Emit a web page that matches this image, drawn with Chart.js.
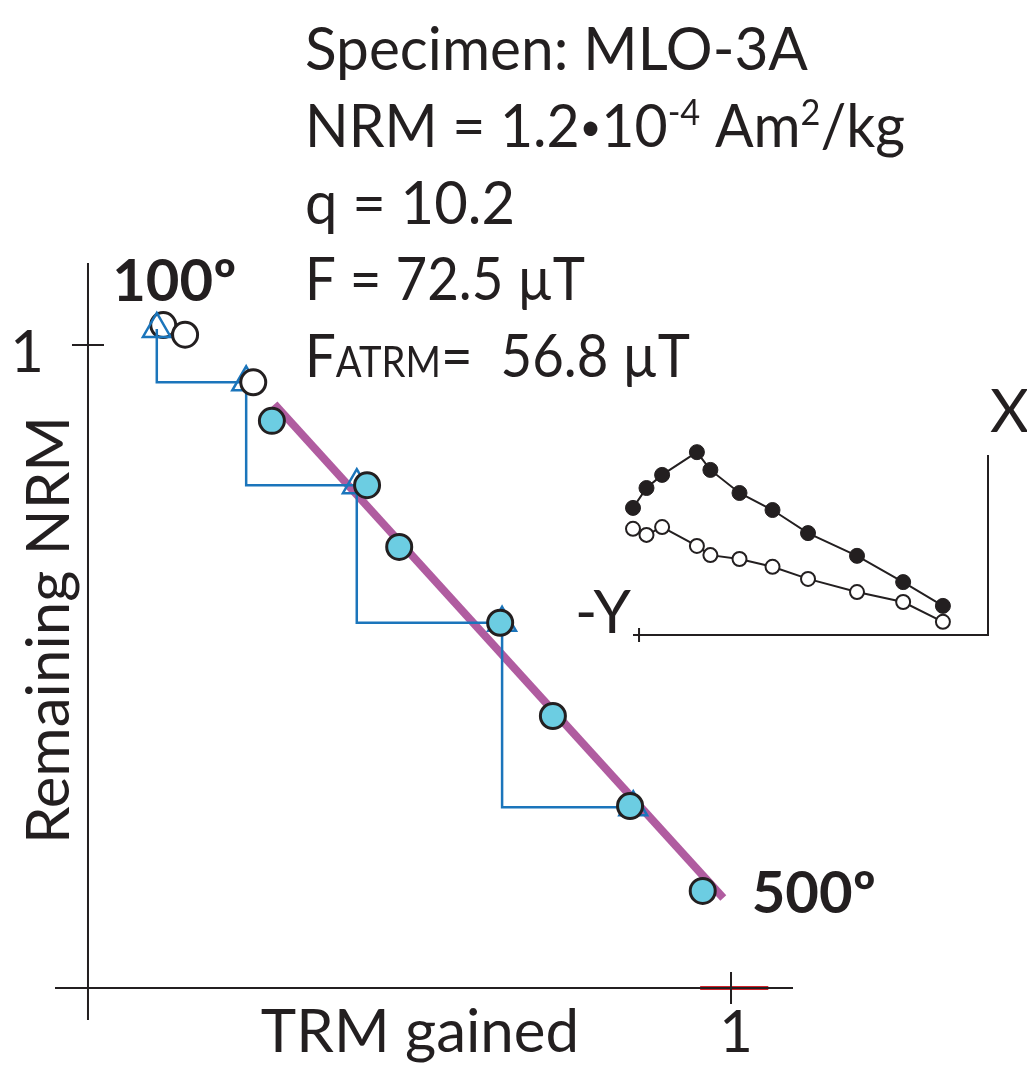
<!DOCTYPE html>
<html>
<head>
<meta charset="utf-8">
<title>Arai plot MLO-3A</title>
<script src="https://cdn.jsdelivr.net/npm/chart.js@4.4.1/dist/chart.umd.min.js"></script>
<style>
  html, body { margin: 0; padding: 0; background: #fff; }
  #wrap { position: relative; width: 1027px; height: 1067px; }
  #arai { position: absolute; left: 0; top: 0; }
  #zij { position: absolute; left: 560px; top: 380px; }
</style>
</head>
<body>
<div id="wrap">
  <canvas id="arai" width="1027" height="1067"></canvas>
  <canvas id="zij" width="467" height="300"></canvas>
</div>
<script>
// Arai plot, normalised: TRM gained (x) vs remaining NRM (y)
const fitTrm = [0.286, 0.434, 0.484, 0.641, 0.723, 0.843, 0.956];
const fitNrm = [0.882, 0.782, 0.686, 0.568, 0.423, 0.283, 0.151];
// low temperature steps left out of the fit
const lowTrm = [0.117, 0.151, 0.257];
const lowNrm = [1.031, 1.016, 0.942];
// pTRM checks
const checkTrm = [0.107, 0.246, 0.418, 0.644, 0.848];
const checkNrm = [1.025, 0.942, 0.782, 0.568, 0.281];
// best-fit segment
const lineTrm = [0.29, 0.988];
const lineNrm = [0.908, 0.140];
// short red mark on the TRM axis
const markTrm = [0.952, 1.058];
const markNrm = [0, 0];
const stepLabels = ['100º', '500º'];
const axisTicks = [1];

// orthogonal (Zijderveld) projection of the demagnetisation
const zijMinusY = [1.000, 0.962, 0.918, 0.820, 0.782, 0.700, 0.607, 0.507, 0.369, 0.239, 0.127];
const zijX = [0.358, 0.414, 0.451, 0.515, 0.465, 0.400, 0.352, 0.287, 0.223, 0.149, 0.082];
const zijZ = [0.299, 0.282, 0.304, 0.251, 0.225, 0.214, 0.192, 0.158, 0.121, 0.093, 0.037];

const specimenInfo = [
  [['Specimen: MLO-3A']],
  [['NRM = 1.2'], ['•', 'dot'], ['10'], ['-4', 'sup'], [' Am'], ['2', 'sup'], ['/kg']],
  [['q = 10.2']],
  [['F = 72.5 µT']],
  [['F'], ['ATRM', 'sub'], ['=  56.8 µT']],
];
// set width of each info line, in px
const infoWidths = [503, 600, 210, 280, 385];

const INK = '#231f20';
const CYAN = '#6ccde2';
const BLUE = '#1b75bb';
const PURPLE = '#b05ca0';
const FONT = 'Lato, "Open Sans", sans-serif';

const pts = (xs, ys) => xs.map((x, i) => ({ x, y: ys[i] }));

function partStyle(kind, size) {
  if (kind === 'sup') return { s: size * 0.6, dy: -22 };
  if (kind === 'sub') return { s: size * 0.7, dy: 0 };
  if (kind === 'dot') return { s: size * 0.65, dy: -7 };
  return { s: size, dy: 0 };
}

function richText(ctx, parts, x, y, size, width) {
  let natural = 0;
  parts.forEach(([t, kind]) => {
    ctx.font = partStyle(kind, size).s + 'px ' + FONT;
    natural += ctx.measureText(t).width;
  });
  ctx.save();
  ctx.translate(x, y);
  ctx.scale(width / natural, 1);
  let cx = 0;
  parts.forEach(([t, kind]) => {
    const { s, dy } = partStyle(kind, size);
    ctx.font = s + 'px ' + FONT;
    ctx.fillText(t, cx, dy);
    cx += ctx.measureText(t).width;
  });
  ctx.restore();
}

// axes crossing at the origin, with cross ticks at 1, plus all labels
const araiDecor = {
  id: 'araiDecor',
  afterDatasetsDraw(chart) {
    const { ctx, chartArea: a, scales: { x, y } } = chart;
    const x0 = x.getPixelForValue(0), y0 = y.getPixelForValue(0);
    ctx.save();
    ctx.strokeStyle = INK;
    ctx.lineWidth = 2;
    ctx.beginPath();
    ctx.moveTo(a.left, y0); ctx.lineTo(a.right, y0);
    ctx.moveTo(x0, a.top); ctx.lineTo(x0, a.bottom);
    axisTicks.forEach(v => {
      const px = x.getPixelForValue(v), py = y.getPixelForValue(v);
      ctx.moveTo(px, y0 - 16); ctx.lineTo(px, y0 + 16);
      ctx.moveTo(x0 - 16, py); ctx.lineTo(x0 + 16, py);
    });
    ctx.stroke();

    ctx.fillStyle = INK;
    ctx.font = '58px ' + FONT;
    ctx.textBaseline = 'alphabetic';
    axisTicks.forEach(v => {
      ctx.textAlign = 'center';
      ctx.fillText(String(v), x.getPixelForValue(v) + 5, y0 + 64);
      ctx.textAlign = 'right';
      ctx.fillText(String(v), x0 - 44, y.getPixelForValue(v) + 27);
    });

    ctx.font = '60px ' + FONT;
    ctx.textAlign = 'center';
    ctx.fillText('TRM gained', 420, y0 + 64);
    ctx.save();
    ctx.translate(x0 - 19, 630);
    ctx.rotate(-Math.PI / 2);
    ctx.fillText('Remaining NRM', 0, 0);
    ctx.restore();

    // first and last heating steps
    ctx.font = 'bold 58px ' + FONT;
    ctx.textAlign = 'left';
    ctx.fillText(stepLabels[0], x.getPixelForValue(lowTrm[0]) - 51, y.getPixelForValue(lowNrm[0]) - 24);
    const last = fitTrm.length - 1;
    ctx.fillText(stepLabels[1], x.getPixelForValue(fitTrm[last]) + 49, y.getPixelForValue(fitNrm[last]) + 22);

    specimenInfo.forEach((line, i) => richText(ctx, line, 305, 70 + i * 76.8, 60, infoWidths[i]));
    ctx.restore();
  }
};

const pointStyle = (fill, order) => ({
  showLine: false,
  pointRadius: 12.5,
  pointBorderWidth: 3,
  pointBorderColor: INK,
  pointBackgroundColor: fill,
  clip: false,
  order
});

new Chart(document.getElementById('arai'), {
  type: 'scatter',
  data: {
    datasets: [
      { data: pts(fitTrm, fitNrm), ...pointStyle(CYAN, 2) },
      { data: pts(lowTrm.slice(1), lowNrm.slice(1)), ...pointStyle('#fff', 3) },
      {
        data: pts(checkTrm, checkNrm),
        showLine: true,
        stepped: 'after',
        borderColor: BLUE,
        borderWidth: 2.5,
        pointStyle: 'triangle',
        pointRadius: 16,
        pointBorderWidth: 2.5,
        pointBorderColor: BLUE,
        pointBackgroundColor: 'rgba(0,0,0,0)',
        clip: false,
        order: 4
      },
      {
        data: pts(lineTrm, lineNrm),
        showLine: true,
        borderColor: PURPLE,
        borderWidth: 8,
        borderCapStyle: 'butt',
        pointRadius: 0,
        clip: false,
        order: 5
      },
      { data: pts(lowTrm.slice(0, 1), lowNrm.slice(0, 1)), ...pointStyle('#fff', 6) },
      {
        data: pts(markTrm, markNrm),
        showLine: true,
        borderColor: '#d2232a',
        borderWidth: 4,
        pointRadius: 0,
        clip: false,
        order: 7
      }
    ]
  },
  options: {
    responsive: false,
    devicePixelRatio: 1,
    animation: false,
    events: [],
    layout: { padding: { left: 55, right: 234, top: 263, bottom: 47 } },
    plugins: { legend: { display: false }, tooltip: { enabled: false } },
    scales: {
      x: { type: 'linear', display: false, min: -0.0513, max: 1.0964 },
      y: { type: 'linear', display: false, min: -0.0498, max: 1.1275 }
    }
  },
  plugins: [araiDecor]
});

// inset: -Y to the left, X up, origin at the lower right corner
const zijDecor = {
  id: 'zijDecor',
  afterDatasetsDraw(chart) {
    const { ctx, chartArea: a, scales: { x } } = chart;
    ctx.save();
    ctx.strokeStyle = INK;
    ctx.lineWidth = 2;
    ctx.beginPath();
    ctx.moveTo(a.left, a.bottom); ctx.lineTo(a.right, a.bottom); ctx.lineTo(a.right, a.top);
    const tx = x.getPixelForValue(0.983);
    ctx.moveTo(tx, a.bottom - 7); ctx.lineTo(tx, a.bottom + 7);
    ctx.stroke();
    ctx.fillStyle = INK;
    ctx.font = '60px ' + FONT;
    ctx.textAlign = 'left';
    ctx.fillText('X', a.right + 2, a.top - 23);
    ctx.fillText('-Y', a.left - 58, a.bottom - 2);
    ctx.restore();
  }
};

new Chart(document.getElementById('zij'), {
  type: 'scatter',
  data: {
    datasets: [
      {
        data: pts(zijMinusY, zijX),
        showLine: true,
        borderColor: INK,
        borderWidth: 2,
        pointRadius: 7.5,
        pointBorderWidth: 1,
        pointBorderColor: INK,
        pointBackgroundColor: INK,
        clip: false
      },
      {
        data: pts(zijMinusY, zijZ),
        showLine: true,
        borderColor: INK,
        borderWidth: 2,
        pointRadius: 7,
        pointBorderWidth: 2,
        pointBorderColor: INK,
        pointBackgroundColor: '#fff',
        clip: false
      }
    ]
  },
  options: {
    responsive: false,
    devicePixelRatio: 1,
    animation: false,
    events: [],
    layout: { padding: { left: 73, right: 39, top: 75, bottom: 45 } },
    plugins: { legend: { display: false }, tooltip: { enabled: false } },
    scales: {
      x: { type: 'linear', display: false, reverse: true, min: 0, max: 1 },
      y: { type: 'linear', display: false, min: 0, max: 0.507 }
    }
  },
  plugins: [zijDecor]
});
</script>
</body>
</html>
